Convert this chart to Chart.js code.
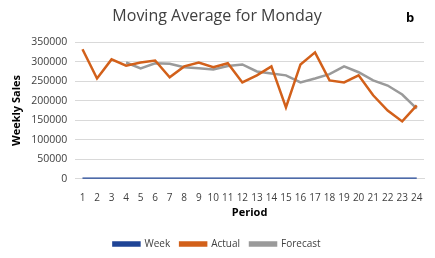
<!DOCTYPE html>
<html>
<head>
<meta charset="utf-8">
<script src="https://cdn.jsdelivr.net/npm/chart.js@4"></script>
<style>
  body { margin: 0; background: #fff; }
  #wrap { width: 435px; height: 258px; }
</style>
</head>
<body>
<div id="wrap"><canvas id="line-chart"></canvas></div>
<script>
const periods = ['1','2','3','4','5','6','7','8','9','10','11','12','13','14','15','16','17','18','19','20','21','22','23','24'];
const week = [1,2,3,4,5,6,7,8,9,10,11,12,13,14,15,16,17,18,19,20,21,22,23,24];
const actual = [332000,257000,306000,290000,298000,303000,260000,288000,298000,286000,296000,247000,265000,288000,183000,293000,324000,252000,247000,265000,214000,175000,147000,188000];
const forecast = [null,null,null,298000,283000,296000,295000,286000,283000,280000,289000,293000,275000,270000,265000,247000,257000,268000,288000,273000,252000,239000,216000,180000];

const FONT = 'Open Sans';

// panel letter in the top-right corner
const cornerLabel = {
  id: 'cornerLabel',
  afterDraw(chart) {
    const ctx = chart.ctx;
    ctx.save();
    ctx.font = 'bold 13px ' + FONT;
    ctx.fillStyle = '#000';
    ctx.textBaseline = 'middle';
    ctx.fillText('b', 406, 18);
    ctx.restore();
  }
};

const ctx = document.getElementById('line-chart');

new Chart(ctx, {
  type: 'line',
  data: {
    labels: periods,
    datasets: [
      { label: 'Week', data: week, borderColor: '#1f4496', backgroundColor: '#1f4496', borderWidth: 2.5, pointRadius: 0 },
      { label: 'Actual', data: actual, borderColor: '#d2601a', backgroundColor: '#d2601a', borderWidth: 2.5, pointRadius: 0 },
      { label: 'Forecast', data: forecast, borderColor: '#9a9a9a', backgroundColor: '#9a9a9a', borderWidth: 2.5, pointRadius: 0 }
    ]
  },
  options: {
    responsive: true,
    maintainAspectRatio: false,
    animation: false,
    layout: { padding: { left: 10, right: 11, top: 4, bottom: -1 } },
    plugins: {
      title: {
        display: true,
        text: 'Moving Average for Monday',
        color: '#404040',
        font: { family: FONT, size: 16, weight: 'normal' },
        padding: { top: 3, bottom: 16 }
      },
      legend: {
        position: 'bottom',
        labels: {
          boxWidth: 26,
          boxHeight: 3,
          color: '#404040',
          font: { family: FONT, size: 10 },
          padding: 10
        }
      },
      tooltip: { enabled: false }
    },
    scales: {
      x: {
        offset: true,
        grid: { display: false },
        border: { color: '#d9d9d9' },
        ticks: { color: '#404040', font: { family: FONT, size: 10 }, autoSkip: false, maxRotation: 0, padding: 5 },
        title: { display: true, text: 'Period', color: '#000', font: { family: FONT, size: 11, weight: 'bold' }, padding: { top: -3, bottom: 10 } }
      },
      y: {
        min: 0,
        max: 350000,
        ticks: {
          stepSize: 50000,
          color: '#404040',
          font: { family: FONT, size: 10.5 },
          padding: 8,
          callback: (v) => String(v)
        },
        grid: { color: '#d9d9d9', drawTicks: false },
        border: { display: false },
        title: { display: true, text: 'Weekly Sales', color: '#000', font: { family: FONT, size: 11, weight: 'bold' }, padding: 0 }
      }
    }
  },
  plugins: [cornerLabel]
});
</script>
</body>
</html>
